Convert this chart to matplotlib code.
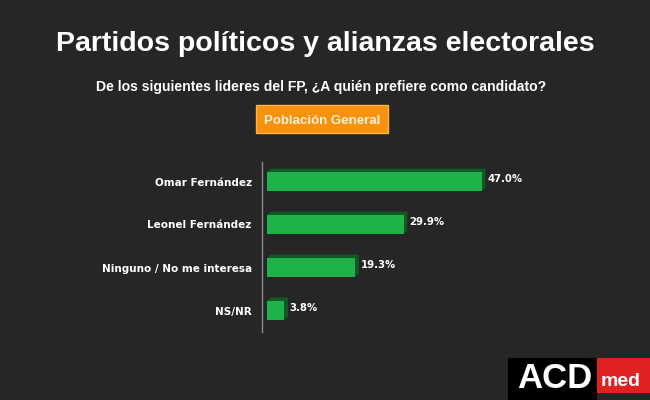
import matplotlib
matplotlib.use("Agg")
import matplotlib.pyplot as plt
from matplotlib.patches import Rectangle, Polygon

categories = ["Omar Fernández", "Leonel Fernández", "Ninguno / No me interesa", "NS/NR"]
values = [47.0, 29.9, 19.3, 3.8]
value_labels = ["47.0%", "29.9%", "19.3%", "3.8%"]

title = "Partidos políticos y alianzas electorales"
subtitle = "De los siguientes lideres del FP, ¿A quién prefiere como candidato?"
badge = "Población General"

BG = "#262626"
GREEN = "#1fb24a"
DARK = "#0e5a25"
FAM = ["Liberation Sans", "DejaVu Sans"]

plt.rcParams['font.family'] = ['DejaVu Sans']
fig = plt.figure(figsize=(6.5, 4.0), dpi=100, facecolor=BG)

fig.text(0.5, 1 - 44/400, title, ha="center", va="center", color="white",
         fontsize=20.5, fontweight="bold", family=FAM)
fig.text(0.494, 1 - 87/400, subtitle, ha="center", va="center", color="white",
         fontsize=10.1, fontweight="bold", family=FAM)
fig.add_artist(Rectangle((256/650, 1 - 133/400), 132/650, 28/400, transform=fig.transFigure,
                         facecolor="#f7920e", edgecolor="#ffb24a", linewidth=1))
fig.text(322/650, 1 - 123.5/400, badge, ha="center", va="baseline", color="#fff2dc",
         fontsize=9.5, fontweight="bold", family=FAM)

ax = fig.add_axes([267/650, 1 - 332/400, 228.5/650, 172/400])
ax.set_facecolor(BG)
ax.patch.set_alpha(0)
ax.set_xlim(0, 50)
ax.set_ylim(3.5, -0.5)
ys = list(range(len(categories)))
h = 0.44
# 3D depth
dx, dy = 0.8, 0.08
for y, v in zip(ys, values):
    ax.add_patch(Polygon([(0, y - h/2), (dx, y - h/2 - dy), (v + dx, y - h/2 - dy),
                          (v + dx, y + h/2 - dy), (v, y + h/2), (v, y - h/2)],
                         closed=True, facecolor=DARK, edgecolor="none", clip_on=False))
ax.barh(ys, values, height=h, color=GREEN, edgecolor="none")
for y, v, lab in zip(ys, values, value_labels):
    ax.text(v + 1.2, y - 0.05, lab, ha="left", va="center", color="white",
            fontsize=7.3, fontweight="bold")
ax.set_yticks(ys)
ax.set_yticklabels(categories, color="white", fontsize=7.5, fontweight="bold")
ax.tick_params(axis="y", length=0, pad=11)
ax.set_xticks([])
for s in ax.spines.values():
    s.set_visible(False)

fig.add_artist(plt.Line2D([262/650, 262/650], [1 - 162/400, 1 - 332/400],
                          transform=fig.transFigure, color="#8a8a8a", linewidth=1))

# logo
fig.add_artist(Rectangle((508/650, 0), 89/650, 42/400, transform=fig.transFigure,
                         facecolor="black", edgecolor="none"))
fig.add_artist(Rectangle((597/650, 7/400), 53/650, 35/400, transform=fig.transFigure,
                         facecolor="#e02121", edgecolor="none"))
fig.text(555/650, 22/400, "ACD", ha="center", va="center", color="white",
         fontsize=25, fontweight="bold", family=FAM)
fig.text(601/650, 14/400, "med", ha="left", va="baseline", color="white",
         fontsize=14, fontweight="bold", family=FAM)

fig.savefig("out.png", dpi=100, facecolor=BG)
